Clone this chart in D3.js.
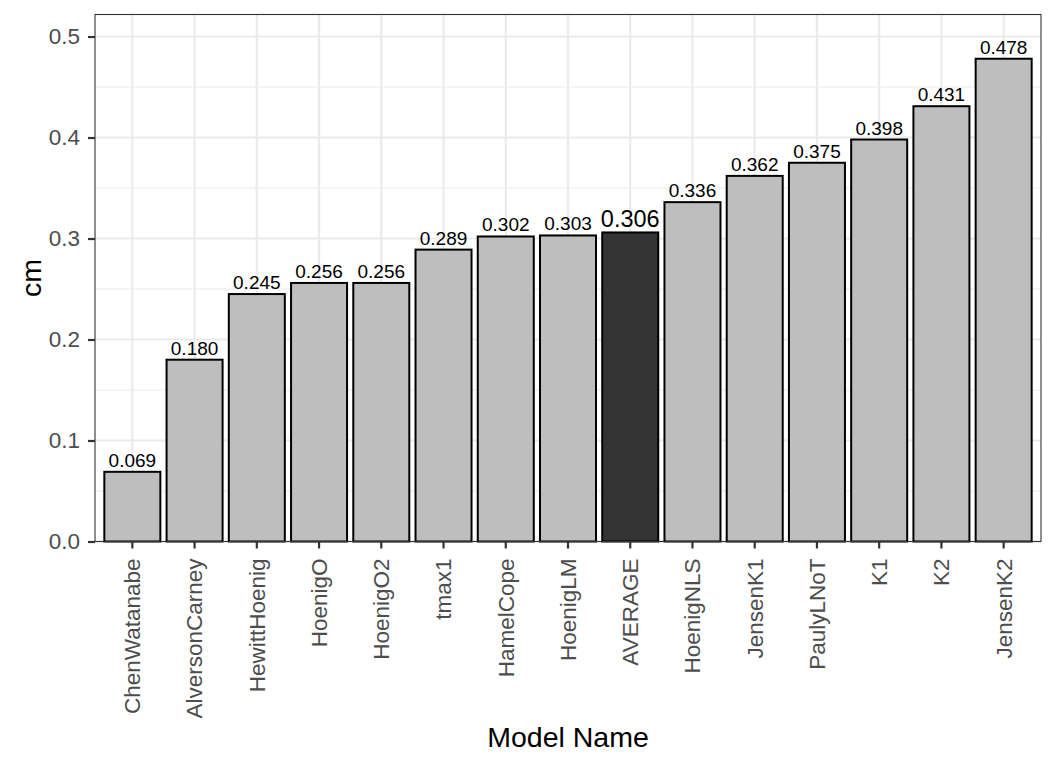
<!DOCTYPE html>
<html><head><meta charset="utf-8">
<script src="https://cdn.jsdelivr.net/npm/d3@7"></script>
<style>body{margin:0;background:#fff}text{font-family:"Liberation Sans",Arial,sans-serif}</style>
</head><body><svg id="c" width="1056" height="768"></svg>
<script>
const models = ["ChenWatanabe","AlversonCarney","HewittHoenig","HoenigO","HoenigO2","tmax1","HamelCope","HoenigLM","AVERAGE","HoenigNLS","JensenK1","PaulyLNoT","K1","K2","JensenK2"];
const values = [0.069,0.180,0.245,0.256,0.256,0.289,0.302,0.303,0.306,0.336,0.362,0.375,0.398,0.431,0.478];
const yTicks = [0.0,0.1,0.2,0.3,0.4,0.5];
const yMinor = [0.05,0.15,0.25,0.35,0.45];

const svg = d3.select("#c");
const L = 95, R = 1041, T = 14.5, B = 541.5;
const x = d3.scaleBand().domain(models).range([L, R]).paddingInner(0.1).paddingOuter(0.15);
const y = d3.scaleLinear().domain([0, 0.5218]).range([B, T]);

const g = svg.append("g");
g.append("rect").attr("x",L).attr("y",T).attr("width",R-L).attr("height",B-T).attr("fill","#fff");
g.selectAll(".mn").data(yMinor).enter().append("line").attr("x1",L).attr("x2",R)
 .attr("y1",d=>y(d)).attr("y2",d=>y(d)).attr("stroke","#EBEBEB").attr("stroke-width",1.1);
g.selectAll(".mj").data(yTicks).enter().append("line").attr("x1",L).attr("x2",R)
 .attr("y1",d=>y(d)).attr("y2",d=>y(d)).attr("stroke","#EBEBEB").attr("stroke-width",2.2);
g.selectAll(".vx").data(models).enter().append("line").attr("y1",T).attr("y2",B)
 .attr("x1",d=>x(d)+x.bandwidth()/2).attr("x2",d=>x(d)+x.bandwidth()/2).attr("stroke","#EBEBEB").attr("stroke-width",2.2);

g.selectAll(".bar").data(models).enter().append("rect")
 .attr("x",d=>x(d)).attr("width",x.bandwidth())
 .attr("y",(d,i)=>y(values[i])).attr("height",(d,i)=>y(0)-y(values[i]))
 .attr("fill",d=>d==="AVERAGE"?"#333333":"#BEBEBE").attr("stroke","#000").attr("stroke-width",2);

g.selectAll(".lbl").data(models).enter().append("text")
 .attr("x",d=>x(d)+x.bandwidth()/2).attr("y",(d,i)=>y(values[i])-5)
 .attr("text-anchor","middle").attr("font-size",d=>d==="AVERAGE"?23.5:19).attr("fill","#000")
 .text((d,i)=>values[i].toFixed(3));

g.append("rect").attr("x",L).attr("y",T).attr("width",R-L).attr("height",B-T).attr("fill","none").attr("stroke","#333").attr("stroke-width",1.1);

// y axis
const ya = svg.append("g").attr("transform",`translate(${L},0)`)
 .call(d3.axisLeft(y).tickValues(yTicks).tickFormat(d3.format(".1f")).tickSize(7).tickPadding(8));
ya.select(".domain").remove();
ya.selectAll("line").attr("stroke","#333").attr("stroke-width",2.2);
ya.selectAll("text").attr("font-size",22.5).attr("fill","#4D4D4D").attr("font-family","Liberation Sans, Arial, sans-serif");

// x axis
const xa = svg.append("g").attr("transform",`translate(0,${B})`)
 .call(d3.axisBottom(x).tickSize(7).tickPadding(4));
xa.select(".domain").remove();
xa.selectAll("line").attr("stroke","#333").attr("stroke-width",2.2);
xa.selectAll("text").attr("font-size",22.5).attr("fill","#4D4D4D").attr("font-family","Liberation Sans, Arial, sans-serif")
 .attr("transform","rotate(-90)").attr("text-anchor","end").attr("dy","0.35em").attr("x",-17).attr("y",0);

svg.append("text").attr("x",(L+R)/2).attr("y",747).attr("text-anchor","middle").attr("font-size",28.5).attr("fill","#000").text("Model Name");
svg.append("text").attr("transform",`translate(41,${(T+B)/2}) rotate(-90)`).attr("text-anchor","middle").attr("font-size",28.5).attr("fill","#000").text("cm");
</script></body></html>
